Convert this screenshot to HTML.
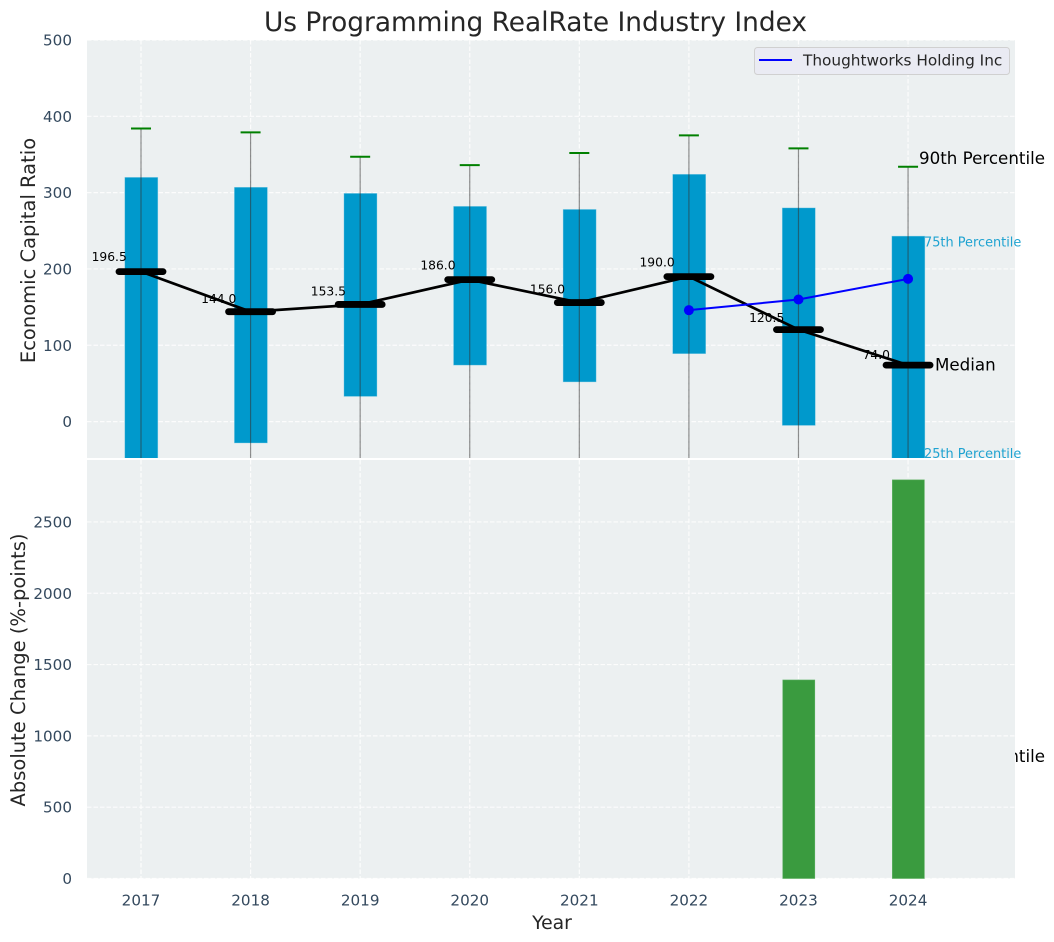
<!DOCTYPE html>
<html lang="en">
<head>
<meta charset="utf-8">
<title>Us Programming RealRate Industry Index</title>
<style>
html,body{margin:0;padding:0;background:#fff;width:1054px;height:942px;overflow:hidden}
svg{display:block;font-family:"DejaVu Sans","Liberation Sans",sans-serif}
</style>
</head>
<body>
<svg id="chart" width="1054" height="942" viewBox="0 0 1054 942" xmlns="http://www.w3.org/2000/svg">
<defs>
<clipPath id="clip-top"><rect x="87" y="40" width="928" height="418"></rect></clipPath>
</defs>
</svg>
<script>
const years = [2017, 2018, 2019, 2020, 2021, 2022, 2023, 2024];
const medianValues = [196.5, 144, 153.5, 186, 156, 190, 120.5, 74];
const q3Values = [320, 307, 299, 282, 278, 324, 280, 243];
const q1Values = [-70, -28, 33, 74, 52, 89, -5, -70];
const p90Values = [384, 379, 347, 336, 352, 375, 358, 334];
const p10Values = [-120, -110, -100, -90, -90, -80, -90, -120];
const companyYears = [2022, 2023, 2024];
const companyValues = [146, 160, 187];
const changeYears = [2023, 2024];
const changeValues = [1392, 2795];
const topTicks = [0, 100, 200, 300, 400, 500];
const bottomTicks = [0, 500, 1000, 1500, 2000, 2500];

const NS = 'http://www.w3.org/2000/svg';
const svg = document.getElementById('chart');
const TICK = '#34495e', DARK = '#262626';

const xScale = v => 141 + (v - 2017) * 109.58;
const yTop = v => 421.6 - v * 0.7632;
const yBottom = v => 878.5 - v * 0.14262;

function make(tag, props, parent) {
  const el = document.createElementNS(NS, tag);
  for (const k in props) el.setAttribute(k, props[k]);
  (parent || svg).appendChild(el);
  return el;
}
function label(str, x, y, size, fill, anchor, parent) {
  const el = make('text', {x: x, y: y, 'font-size': size, fill: fill, 'text-anchor': anchor || 'start'}, parent);
  el.textContent = str;
  return el;
}

/* panel backgrounds */
const bgTop = make('rect', {x: 87, y: 40, width: 928, height: 418, fill: '#ecf0f1'});



/* annotation that is partly hidden behind the lower panel */
const hiddenNote = label('90th Percentile', 919, 762, 16.7, '#000');



const bgBottom = make('rect', {x: 87, y: 460, width: 928, height: 418.5, fill: '#ecf0f1'});



/* grids */
const gridStyle = {stroke: '#fff', 'stroke-width': 1.2, 'stroke-dasharray': '4.5 2', opacity: 0.85};
years.forEach(y => {
  const g1 = make('line', Object.assign({x1: xScale(y), x2: xScale(y), y1: 40, y2: 458}, gridStyle));
  
  
  const g2 = make('line', Object.assign({x1: xScale(y), x2: xScale(y), y1: 460, y2: 878.5}, gridStyle));
  
  
});
topTicks.forEach(t => {
  const g = make('line', Object.assign({x1: 87, x2: 1015, y1: yTop(t), y2: yTop(t)}, gridStyle));
  
  
  const lab = label(String(t), 72, yTop(t) + 5.5, 15.2, TICK, 'end');
  
  
});
bottomTicks.forEach(t => {
  const g = make('line', Object.assign({x1: 87, x2: 1015, y1: yBottom(t), y2: yBottom(t)}, gridStyle));
  
  
  const lab = label(String(t), 72, yBottom(t) + 5.5, 15.2, TICK, 'end');
  
  
});
years.forEach(y => {
  const lab = label(String(y), xScale(y), 905.5, 15.2, TICK, 'middle');
  
  
});

/* boxes, whiskers, caps (clipped to top panel) */
const plot = make('g', {'clip-path': 'url(#clip-top)'});


years.forEach((y, i) => {
  const x = xScale(y);
  const box = make('rect', {x: x - 16.2, width: 33, y: yTop(q3Values[i]), height: yTop(q1Values[i]) - yTop(q3Values[i]), fill: '#0099cc', stroke: '#7fcce5', 'stroke-width': 0.6, 'stroke-opacity': 0.6}, plot);
  
  
});
years.forEach((y, i) => {
  const x = xScale(y);
  const w = make('line', {x1: x, x2: x, y1: yTop(p90Values[i]), y2: yTop(p10Values[i]), stroke: '#333', 'stroke-opacity': 0.55, 'stroke-width': 1.2}, plot);
  
  
  const cap = make('line', {x1: x - 10, x2: x + 10, y1: yTop(p90Values[i]), y2: yTop(p90Values[i]), stroke: '#008000', 'stroke-width': 2}, plot);
  
  
});

/* median value labels */
years.forEach((y, i) => {
  const str = medianValues[i].toFixed(1);
  const lab = label(str, xScale(y) - 31.8, yTop(medianValues[i]) - 10.5 + (200 - medianValues[i]) * 0.033, 12.3, '#000', 'middle');
  
  
});

/* median line and dashes */
const medianLine = make('polyline', {points: years.map((y, i) => xScale(y) + ',' + yTop(medianValues[i])).join(' '), fill: 'none', stroke: '#000', 'stroke-width': 2.7});


years.forEach((y, i) => {
  const x = xScale(y);
  const m = make('line', {x1: x - 22, x2: x + 22, y1: yTop(medianValues[i]), y2: yTop(medianValues[i]), stroke: '#000', 'stroke-width': 6.8, 'stroke-linecap': 'round'});
  
  
});

/* company series */
const companyLine = make('polyline', {points: companyYears.map((y, i) => xScale(y) + ',' + yTop(companyValues[i])).join(' '), fill: 'none', stroke: '#0000ff', 'stroke-width': 2});


companyYears.forEach((y, i) => {
  const d = make('circle', {cx: xScale(y), cy: yTop(companyValues[i]), r: 5, fill: '#0000ff'});
  
  
});

/* change bars */
changeYears.forEach((y, i) => {
  const bar = make('rect', {x: xScale(y) - 15.7, width: 32, y: yBottom(changeValues[i]), height: yBottom(0) - yBottom(changeValues[i]), fill: '#3a9b3f', stroke: '#5cb060', 'stroke-width': 0.6});
  
  
});

/* separator */
const sep = make('rect', {x: 87, y: 458, width: 928, height: 2, fill: '#fff'});



/* annotations */
const note90 = label('90th Percentile', 919, 164, 16.7, '#000');


const note75 = label('75th Percentile', 924, 246.5, 12.9, '#1fa3d1');


const noteMed = label('Median', 935, 370.5, 16.7, '#000');


const note25 = label('25th Percentile', 924, 458, 12.9, '#1fa3d1');



/* legend */
const legend = make('g', {});


const legendBox = make('rect', {x: 754.5, y: 47.5, width: 255, height: 27, rx: 3, fill: '#eaeaf2', 'fill-opacity': 0.95, stroke: '#d0d0d0', 'stroke-width': 1}, legend);


const legendLine = make('line', {x1: 759, x2: 792, y1: 60, y2: 60, stroke: '#0000ff', 'stroke-width': 2}, legend);


const legendText = label('Thoughtworks Holding Inc', 803, 65.5, 15.3, DARK, 'start', legend);



/* titles */
const title = label('Us Programming RealRate Industry Index', 535.5, 31, 26.4, DARK, 'middle');


const xTitle = label('Year', 552, 929, 18.8, DARK, 'middle');


const yTitle1 = label('Economic Capital Ratio', 0, 0, 19.5, DARK, 'middle');
yTitle1.setAttribute('transform', 'translate(35,250.5) rotate(-90)');


const yTitle2 = label('Absolute Change (%-points)', 0, 0, 19.5, DARK, 'middle');
yTitle2.setAttribute('transform', 'translate(25,670) rotate(-90)');


</script>
</body>
</html>
